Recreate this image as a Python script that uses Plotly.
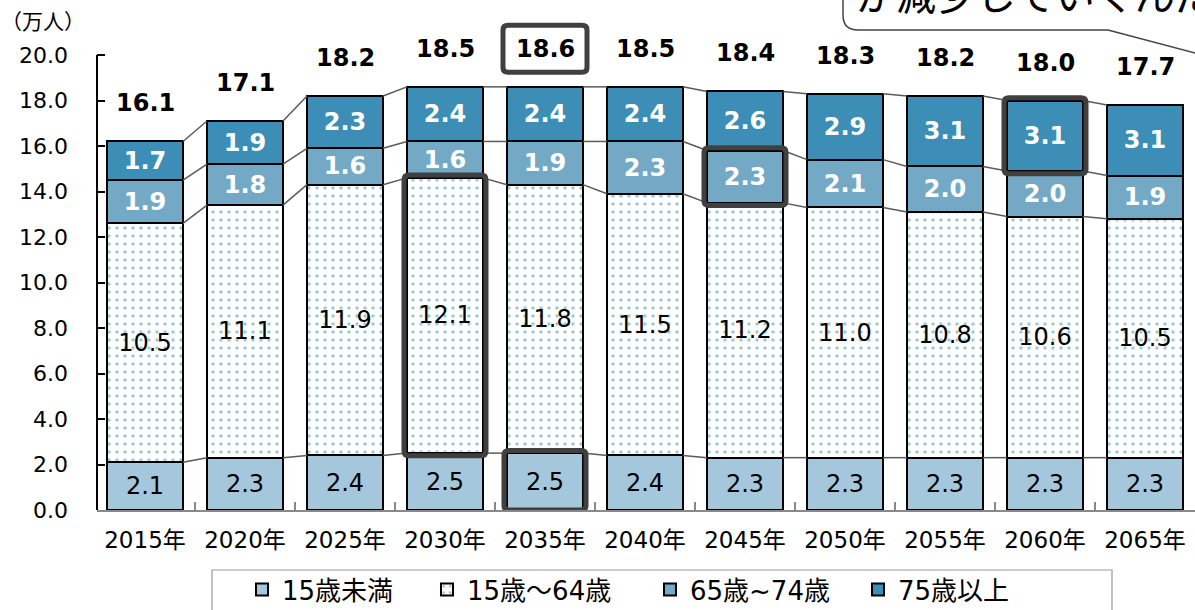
import plotly.graph_objects as go

# ---------------- data ----------------
years = ["2015年", "2020年", "2025年", "2030年", "2035年", "2040年",
         "2045年", "2050年", "2055年", "2060年", "2065年"]
under15 = [2.1, 2.3, 2.4, 2.5, 2.5, 2.4, 2.3, 2.3, 2.3, 2.3, 2.3]
age15_64 = [10.5, 11.1, 11.9, 12.1, 11.8, 11.5, 11.2, 11.0, 10.8, 10.6, 10.5]
age65_74 = [1.9, 1.8, 1.6, 1.6, 1.9, 2.3, 2.3, 2.1, 2.0, 2.0, 1.9]
age75 = [1.7, 1.9, 2.3, 2.4, 2.4, 2.4, 2.6, 2.9, 3.1, 3.1, 3.1]
totals = [16.1, 17.1, 18.2, 18.5, 18.6, 18.5, 18.4, 18.3, 18.2, 18.0, 17.7]
series_names = ["15歳未満", "15歳～64歳", "65歳~74歳", "75歳以上"]
y_ticks = [0, 2, 4, 6, 8, 10, 12, 14, 16, 18, 20]
unit_label = "（万人）"
bubble_text = "が減少していくんだね"

# ---------------- styling ----------------
W, H = 1195, 610
ML, MR, MT, MB = 97, 0, 0, 100
PX_PER_Y = 22.75
X_RANGE = [-0.48, 10.5]
Y_RANGE = [0, (H - MT - MB) / PX_PER_Y]
BAR_W = 0.76
NUM_FONT = "DejaVu Sans, Noto Sans CJK JP"
JP_FONT = "Noto Sans CJK JP, DejaVu Sans"
C_UNDER15 = "#A5C7DB"
C_6574 = "#74A9C6"
C_75 = "#3C8EB6"
BOX_C = "#404040"
LEGEND_PX = [242, 427, 650, 858]

plot_w = W - ML - MR
plot_h = H - MT - MB


def pxx(px):
    return (px - ML) / plot_w


def pxy(py):
    return (H - MB - py) / plot_h


idx = list(range(len(years)))
fmt = lambda arr: [f"{v:.1f}" for v in arr]
legend_ids = ["legend", "legend2", "legend3", "legend4"]

fig = go.Figure()

common = dict(x=idx, width=BAR_W, textposition="inside", insidetextanchor="middle",
              textangle=0, hoverinfo="skip", cliponaxis=False)

fig.add_trace(go.Bar(name=series_names[0], y=under15, text=fmt(under15), texttemplate="%{text}",
                     legend=legend_ids[0],
                     marker=dict(color=C_UNDER15, line=dict(color="black", width=2)),
                     textfont=dict(family=NUM_FONT, size=24, color="black"), **common))
fig.add_trace(go.Bar(name=series_names[1], y=age15_64, text=fmt(age15_64), texttemplate="%{text}",
                     legend=legend_ids[1],
                     marker=dict(color="white", line=dict(color="black", width=2),
                                 pattern=dict(shape=".", size=8, solidity=0.15,
                                              fgcolor="#3a95aa", bgcolor="white")),
                     textfont=dict(family=NUM_FONT, size=24, color="black"), **common))
fig.add_trace(go.Bar(name=series_names[2], y=age65_74, text=fmt(age65_74), texttemplate="%{text}",
                     legend=legend_ids[2],
                     marker=dict(color=C_6574, line=dict(color="black", width=2)),
                     textfont=dict(family=NUM_FONT, size=24, color="white", weight="bold"), **common))
fig.add_trace(go.Bar(name=series_names[3], y=age75, text=fmt(age75), texttemplate="%{text}",
                     legend=legend_ids[3],
                     marker=dict(color=C_75, line=dict(color="black", width=2)),
                     textfont=dict(family=NUM_FONT, size=24, color="white", weight="bold"), **common))

# cumulative levels
c1 = under15
c2 = [a + b for a, b in zip(c1, age15_64)]
c3 = [a + b for a, b in zip(c2, age65_74)]
c4 = [a + b for a, b in zip(c3, age75)]

# connector lines
lx, ly = [], []
for lev in (c1, c2, c3, c4):
    for i in range(len(idx) - 1):
        lx += [i + BAR_W / 2, i + 1 - BAR_W / 2, None]
        ly += [lev[i], lev[i + 1], None]
fig.add_trace(go.Scatter(x=lx, y=ly, mode="lines", line=dict(color="#5a5a5a", width=1.5),
                         showlegend=False, hoverinfo="skip"))

shapes = []


def rrect(x0, x1, y0, y1, rx=0.05, ry=0.2):
    return (f"M {x0+rx},{y0} L {x1-rx},{y0} Q {x1},{y0} {x1},{y0+ry} "
            f"L {x1},{y1-ry} Q {x1},{y1} {x1-rx},{y1} L {x0+rx},{y1} "
            f"Q {x0},{y1} {x0},{y1-ry} L {x0},{y0+ry} Q {x0},{y0} {x0+rx},{y0} Z")


HW = 0.41
pad = 0.12
hl = [
    (3, c1[3] - pad, c2[3] + pad),   # 2030 15-64
    (4, 0.0, c1[4] + pad),           # 2035 under15
    (6, c2[6] - pad, c3[6] + pad),   # 2045 65-74
    (9, c3[9] - pad, c4[9] + pad),   # 2060 75+
]
for i, y0, y1 in hl:
    shapes.append(dict(type="path", xref="x", yref="y", path=rrect(i - HW, i + HW, y0, y1),
                       line=dict(color=BOX_C, width=5), layer="above"))

# y-axis line (0..20 only)
shapes.append(dict(type="line", xref="paper", yref="y", x0=0, x1=0, y0=0, y1=y_ticks[-1],
                   line=dict(color="black", width=2)))

# total labels
annotations = []
TOT_SHIFT = 38
for i, t in enumerate(totals):
    annotations.append(dict(x=i, y=c4[i], yshift=TOT_SHIFT, text=f"{t:.1f}", showarrow=False,
                            xanchor="center", yanchor="middle",
                            font=dict(family=NUM_FONT, size=24, color="black", weight="bold")))

# box around the 2035 total
bi = 4
yc = c4[bi] + TOT_SHIFT / PX_PER_Y
shapes.append(dict(type="path", xref="x", yref="y",
                   path=rrect(bi - 0.42, bi + 0.42, yc - 23.5 / PX_PER_Y, yc + 23.5 / PX_PER_Y),
                   line=dict(color=BOX_C, width=5), layer="above"))

# unit label
annotations.append(dict(xref="paper", yref="paper", x=pxx(43), y=pxy(20), text=unit_label,
                        showarrow=False, xanchor="center", yanchor="middle",
                        font=dict(family=JP_FONT, size=21, color="black")))

# speech bubble (cut off at the top right)
bpath = (f"M {pxx(843)},{pxy(-60)} L {pxx(843)},{pxy(15)} "
         f"Q {pxx(843)},{pxy(30)} {pxx(858)},{pxy(30)} "
         f"L {pxx(1108)},{pxy(30)} L {pxx(1240)},{pxy(65)} L {pxx(1240)},{pxy(-60)} Z")
shapes.append(dict(type="path", xref="paper", yref="paper", path=bpath,
                   fillcolor="white", line=dict(color="#444444", width=1.5), layer="above"))
annotations.append(dict(xref="paper", yref="paper", x=pxx(854), y=pxy(-7), text=bubble_text,
                        showarrow=False, xanchor="left", yanchor="middle",
                        font=dict(family=JP_FONT, size=40, color="black")))

# legend box
shapes.append(dict(type="rect", xref="paper", yref="paper", x0=pxx(212), x1=pxx(1112),
                   y0=pxy(640), y1=pxy(570), line=dict(color="#999999", width=1.2),
                   fillcolor="rgba(0,0,0,0)"))

legend_layout = {}
for lid, lpx in zip(legend_ids, LEGEND_PX):
    legend_layout[lid] = dict(orientation="h", x=pxx(lpx), y=pxy(566), xanchor="left", yanchor="top",
                              font=dict(family=NUM_FONT, size=26, color="black"),
                              bgcolor="rgba(0,0,0,0)", borderwidth=0)

fig.update_layout(
    width=W, height=H,
    margin=dict(l=ML, r=MR, t=MT, b=MB, pad=0, autoexpand=False),
    barmode="stack",
    paper_bgcolor="white", plot_bgcolor="white",
    showlegend=True,
    xaxis=dict(range=X_RANGE, tickmode="array", tickvals=idx, ticktext=years,
               ticks="", showgrid=False, zeroline=False, automargin=False,
               showline=True, linecolor="#888888", linewidth=2,
               tickfont=dict(family=NUM_FONT, size=23, color="black"),
               ticklabelstandoff=8,
               minor=dict(tickmode="array", tickvals=[i + 0.5 for i in idx[:-1]],
                          ticks="inside", ticklen=8, tickcolor="#888888", tickwidth=2)),
    yaxis=dict(range=Y_RANGE, tickmode="array", tickvals=y_ticks,
               ticktext=[f"{v:.1f}" for v in y_ticks], automargin=False,
               ticks="inside", ticklen=8, tickcolor="black", tickwidth=2,
               showline=False, showgrid=False, zeroline=False,
               tickfont=dict(family=NUM_FONT, size=22, color="black"),
               ticklabelstandoff=28),
    uniformtext=dict(minsize=24, mode="show"),
    shapes=shapes,
    annotations=annotations,
    **legend_layout,
)

fig.write_html("out.html", config={"displayModeBar": False},
               post_script="document.body.style.margin='0';document.body.style.overflow='hidden';")
